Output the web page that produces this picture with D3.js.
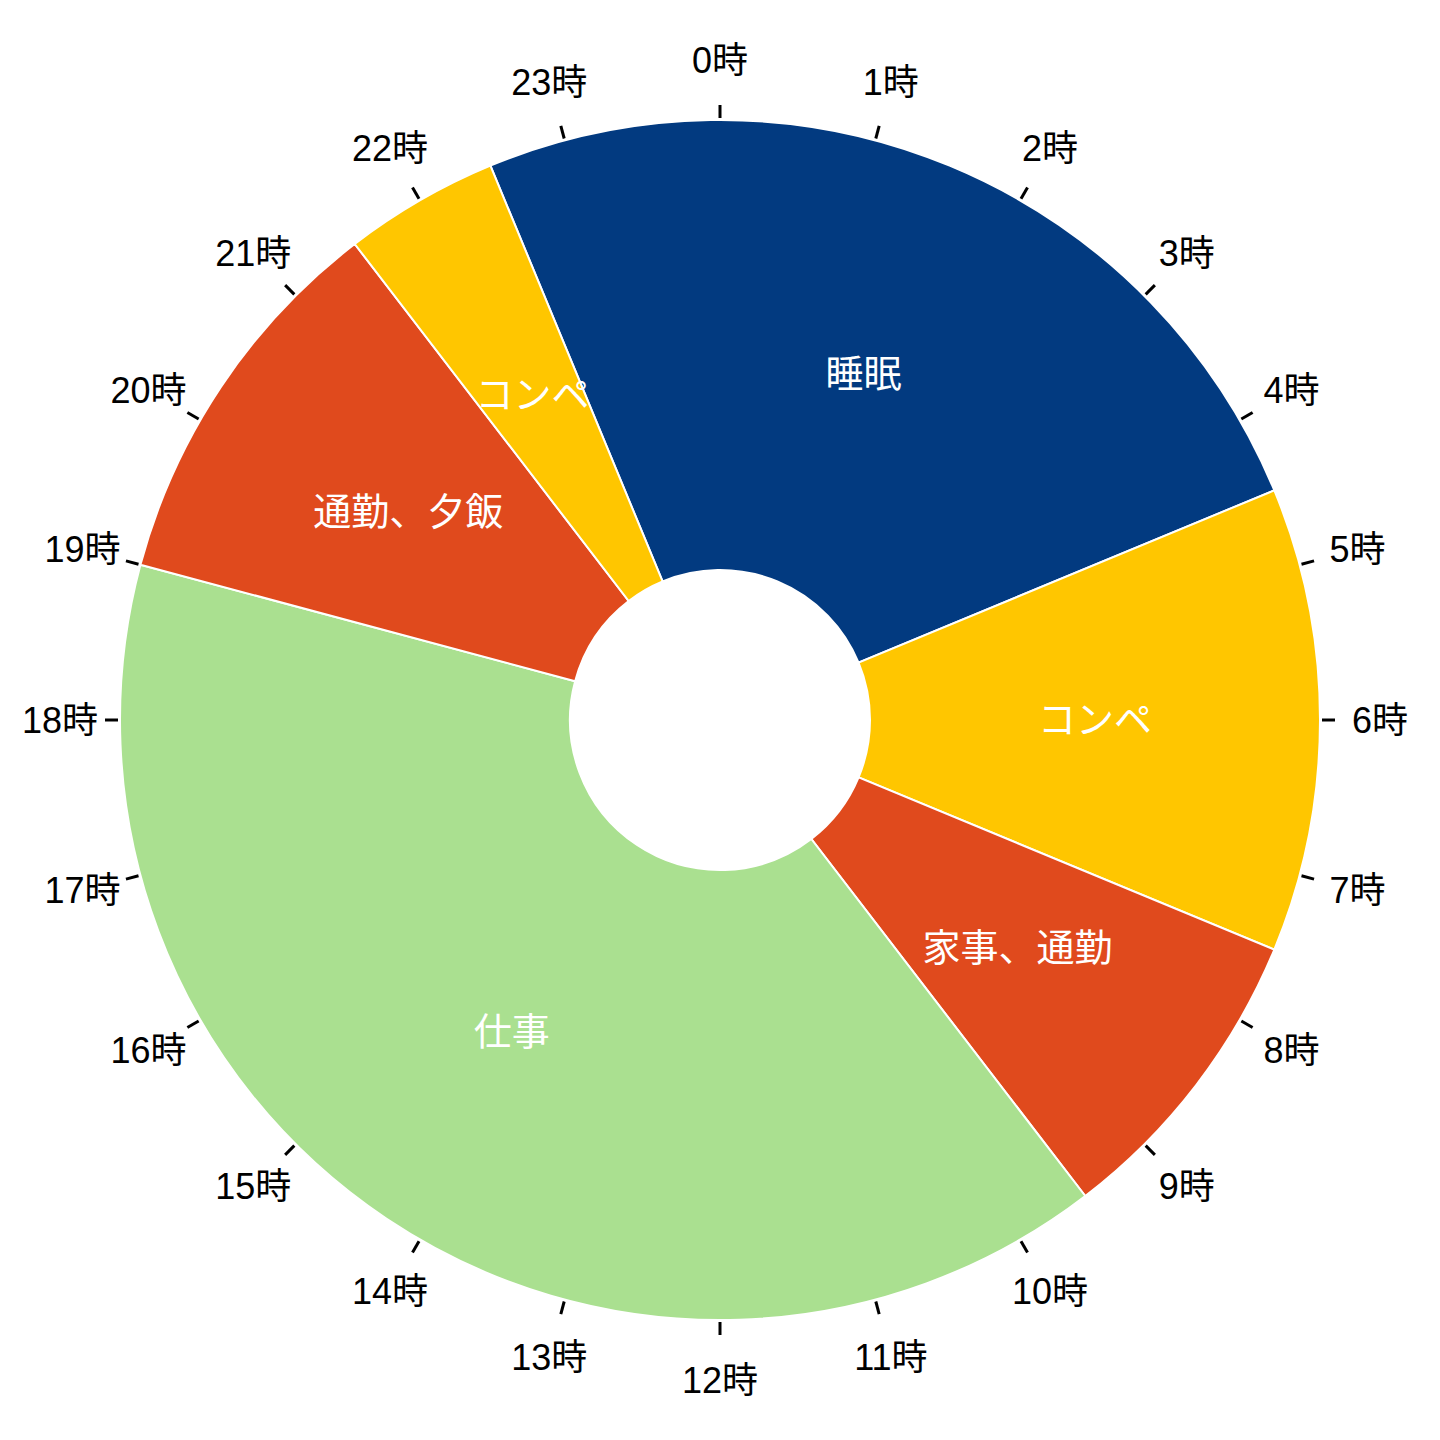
<!DOCTYPE html>
<html><head><meta charset="utf-8">
<script src="https://cdn.jsdelivr.net/npm/d3@7"></script>
<style>
html,body{margin:0;padding:0;background:#fff;}
svg{display:block;}
</style></head>
<body>
<svg id="chart" width="1440" height="1440"></svg>
<script>
// Data
const activities = ["睡眠", "コンペ", "家事、通勤", "仕事", "通勤、夕飯", "コンペ"];
const durations = [6, 3, 2, 9.5, 2.5, 1];          // hours
const startHour = 22.5;                              // first segment starts at 22:30
const colors = ["#023a80", "#ffc600", "#e04a1d", "#aae090", "#e04a1d", "#ffc600"];
const hourTicks = d3.range(0, 24);
const hourLabels = hourTicks.map(h => h + "時");

const W = 1440, H = 1440, cx = 720, cy = 720;
const outerR = 600, innerR = 150;

const svg = d3.select("#chart");
const g = svg.append("g").attr("transform", `translate(${cx},${cy})`);

const angle = d3.scaleLinear().domain([0, 24]).range([0, 2 * Math.PI]);
const a0 = angle(startHour) - 2 * Math.PI;

const pie = d3.pie().sort(null).value(d => d.v)
  .startAngle(a0).endAngle(a0 + 2 * Math.PI);
const data = activities.map((name, i) => ({ name, v: durations[i], c: colors[i] }));
const arcs = pie(data);
const arc = d3.arc().innerRadius(innerR).outerRadius(outerR);

g.selectAll("path.slice").data(arcs).join("path")
  .attr("class", "slice")
  .attr("d", arc)
  .attr("fill", d => d.data.c)
  .attr("stroke", "#fff")
  .attr("stroke-width", 2);

const font = "'Liberation Sans', 'Noto Sans CJK JP', sans-serif";

g.selectAll("text.slabel").data(arcs).join("text")
  .attr("class", "slabel")
  .attr("transform", d => `translate(${arc.centroid(d)})`)
  .attr("text-anchor", "middle")
  .attr("dominant-baseline", "central")
  .attr("fill", "#fff")
  .style("font-family", font)
  .style("font-size", "38px")
  .text(d => d.data.name);

// hour ticks
const tickG = g.selectAll("g.tick").data(hourTicks).join("g").attr("class", "tick");
tickG.append("line")
  .attr("x1", h => 602 * Math.sin(angle(h)))
  .attr("y1", h => -602 * Math.cos(angle(h)))
  .attr("x2", h => 615 * Math.sin(angle(h)))
  .attr("y2", h => -615 * Math.cos(angle(h)))
  .attr("stroke", "#000")
  .attr("stroke-width", 3);
tickG.append("text")
  .attr("x", h => 660 * Math.sin(angle(h)))
  .attr("y", h => -660 * Math.cos(angle(h)))
  .attr("text-anchor", "middle")
  .attr("dominant-baseline", "central")
  .attr("fill", "#000")
  .style("font-family", font)
  .style("font-size", "36px")
  .text((h, i) => hourLabels[i]);
</script>
</body></html>
